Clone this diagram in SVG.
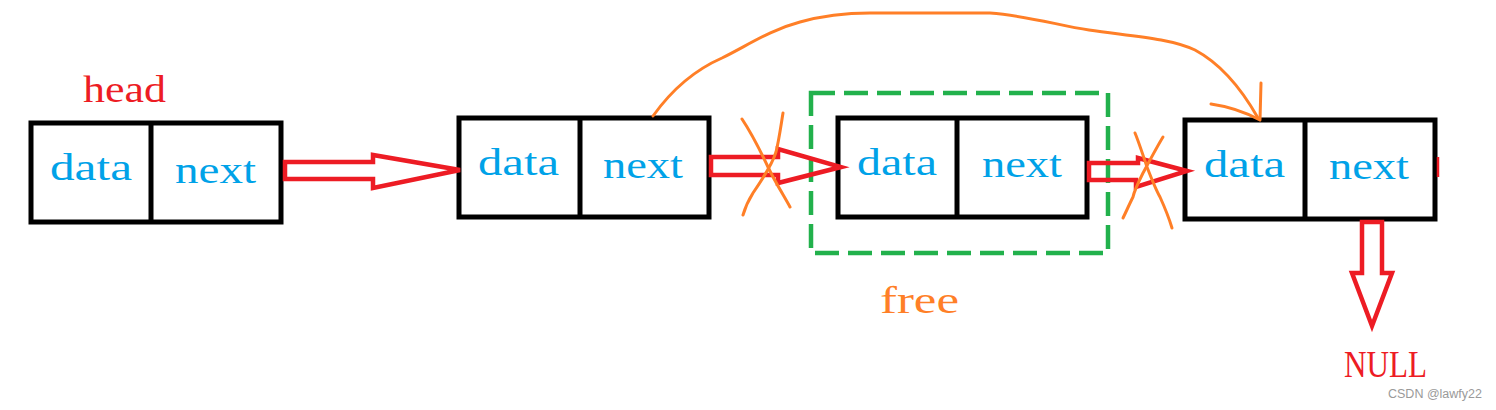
<svg xmlns="http://www.w3.org/2000/svg" width="1496" height="410" viewBox="0 0 1496 410">
<style>
.box{fill:none;stroke:#000;stroke-width:5}
.t{font-family:"Liberation Serif",serif;font-size:38px;fill:#00a2e8}
.red{font-family:"Liberation Serif",serif;font-size:38px;fill:#ed1c24}
.ora{font-family:"Liberation Serif",serif;font-size:38px;fill:#ff7f27}
.arr{fill:none;stroke:#ed1c24;stroke-width:4.5;stroke-linejoin:miter}
.x{fill:none;stroke:#ff7f27;stroke-width:3;stroke-linecap:round;stroke-linejoin:round}
.wm{font-family:"Liberation Sans",sans-serif;font-size:12.5px;fill:#9a9a9a}
</style>
<rect width="1496" height="410" fill="#fff"/>
<text class="red" x="83" y="102" textLength="83" lengthAdjust="spacingAndGlyphs">head</text>
<g id="node1">
<rect class="box" x="31" y="123" width="250" height="99"/>
<line class="box" x1="151" y1="123" x2="151" y2="224"/>
<text class="t" x="50" y="180" textLength="82" lengthAdjust="spacingAndGlyphs">data</text>
<text class="t" x="175" y="183" textLength="81" lengthAdjust="spacingAndGlyphs">next</text>
</g>
<g id="node2">
<rect class="box" x="459" y="118" width="250" height="99"/>
<line class="box" x1="580" y1="118" x2="580" y2="219"/>
<text class="t" x="478" y="175" textLength="81" lengthAdjust="spacingAndGlyphs">data</text>
<text class="t" x="603" y="178" textLength="80" lengthAdjust="spacingAndGlyphs">next</text>
</g>
<g id="freebox">
<rect x="811" y="93" width="297" height="160" fill="none" stroke="#22b14c" stroke-width="4.5" stroke-dasharray="24 9"/>
</g>
<g id="node3">
<rect class="box" x="838" y="118" width="249" height="99"/>
<line class="box" x1="957" y1="118" x2="957" y2="219"/>
<text class="t" x="857" y="175" textLength="80" lengthAdjust="spacingAndGlyphs">data</text>
<text class="t" x="982" y="177" textLength="80" lengthAdjust="spacingAndGlyphs">next</text>
</g>
<g id="node4">
<rect class="box" x="1185" y="120" width="250" height="99"/>
<line class="box" x1="1305" y1="120" x2="1305" y2="221"/>
<text class="t" x="1204" y="177" textLength="81" lengthAdjust="spacingAndGlyphs">data</text>
<text class="t" x="1329" y="179" textLength="80" lengthAdjust="spacingAndGlyphs">next</text>
</g>
<text class="ora" x="880" y="313" textLength="79" lengthAdjust="spacingAndGlyphs">free</text>
<text class="red" x="1344" y="377" textLength="83" lengthAdjust="spacingAndGlyphs">NULL</text>
<g id="connectors">
<path class="arr" d="M285,162 L373,162 L373,155 L460,170 L373,188 L373,179 L285,179 Z"/>
<path class="arr" d="M711,157 L778,157 L778,149 L841,167 L778,183 L778,175 L711,175 Z"/>
<path class="arr" d="M1089,163 L1138,163 L1138,158 L1187,171 L1136,187 L1136,180 L1089,180 Z"/>
<path class="arr" d="M1362,222 L1362,273 L1352,273 L1372,326 L1392,273 L1382,273 L1382,222 Z"/>
<line x1="1438" y1="157" x2="1438" y2="177" stroke="#ed1c24" stroke-width="2.5"/>
<path class="x" d="M742,119 C748,128 760,150 768,167 C774,180 784,196 790,207"/>
<path class="x" d="M783,113 C781,125 779,140 776,152 C772,165 762,180 753,193 C748,201 745,208 743,215"/>
<path class="x" d="M1135,133 C1138,140 1144,158 1147,167 C1152,180 1156,190 1160,197 C1165,208 1169,218 1172,228"/>
<path class="x" d="M1163,137 C1158,145 1150,160 1143,173 C1138,183 1134,192 1133,197 C1129,205 1126,212 1123,218"/>
<path class="x" d="M653,116 C668,95 690,72 722,58 C750,44 770,30 800,22 C825,15 850,13 870,13 L990,13 C1030,16 1060,26 1089,30 C1130,36 1170,38 1195,50 C1225,66 1245,95 1258,118"/>
<path class="x" d="M1261,83 L1260,120 M1211,104 C1225,106 1245,112 1260,120"/>
</g>
<text class="wm" x="1388" y="398">CSDN @lawfy22</text>
</svg>
